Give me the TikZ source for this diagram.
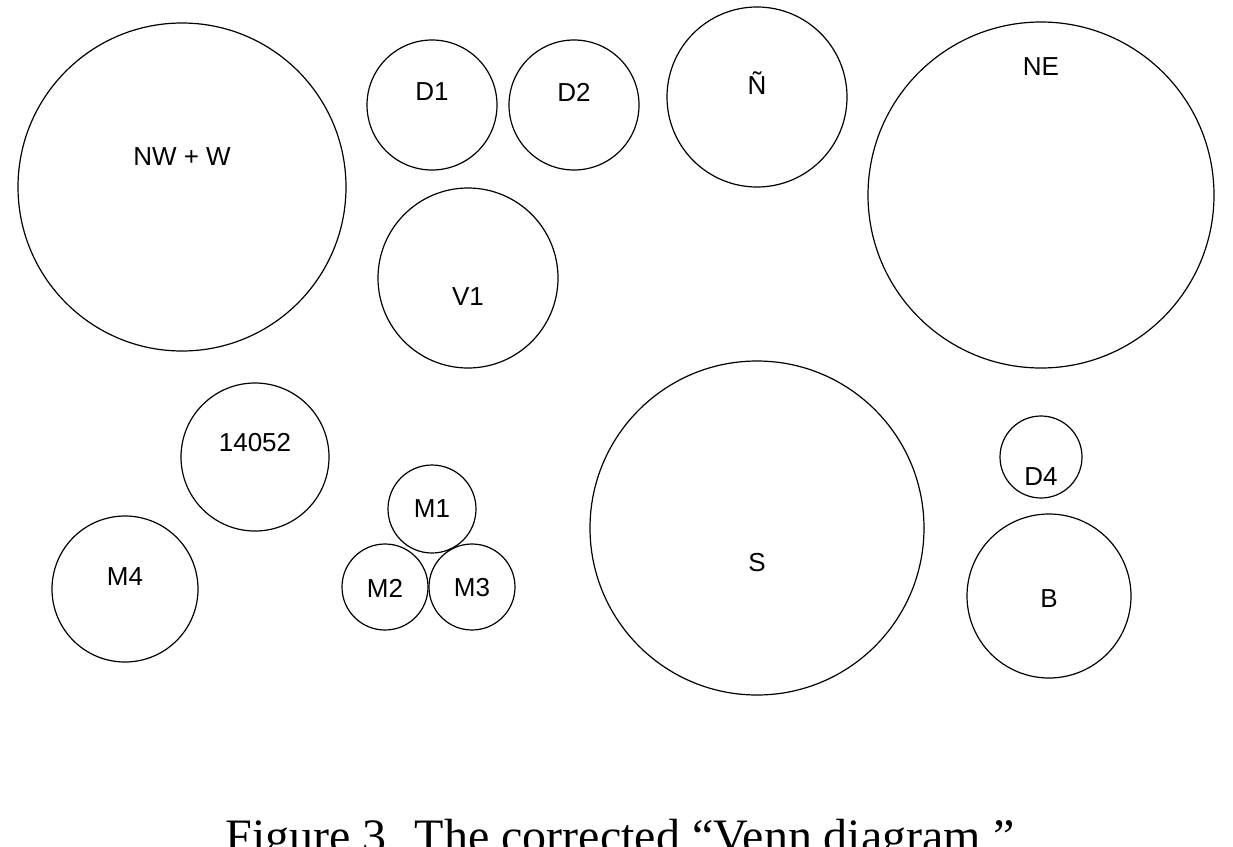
\documentclass[tikz,border=0pt]{standalone}
\usepackage{fontspec}
\setmainfont{Liberation Serif}
\newfontfamily\lab{Liberation Sans}
\begin{document}
\begin{tikzpicture}[x=1pt,y=-1pt,
  lbl/.style={font=\lab\fontsize{26}{30}\selectfont}]
\clip (0,0) rectangle (1233,846);
\fill[white] (0,0) rectangle (1233,846);
\foreach \n/\x/\y/\r in {nw/182/187/164, da/432/105/65, db/574/105/65, en/757/97/90, ne/1041/195/173, va/468/278/90, nf/255/457/74, ma/432/509/44, mb/385/587/43, mc/472/587/43, md/125/589/73, s/757/528/167, dd/1041/457/41, b/1049/596/82}
  \draw[line width=1.2pt] (\x,\y) circle (\r);
\node[lbl] (Lnw) at (182,157) {NW + W};
\node[lbl] (Lda) at (432,92) {D1};
\node[lbl] (Ldb) at (574,92) {D2};
\node[lbl] (Len) at (757,83) {Ñ};
\node[lbl] (Lne) at (1041,67) {NE};
\node[lbl] (Lva) at (468,297) {V1};
\node[lbl] (Lnf) at (255,443) {14052};
\node[lbl] (Lma) at (432,509) {M1};
\node[lbl] (Lmb) at (385,588) {M2};
\node[lbl] (Lmc) at (472,588) {M3};
\node[lbl] (Lmd) at (125,577) {M4};
\node[lbl] (Ls) at (757,563) {S};
\node[lbl] (Ldd) at (1041,477) {D4};
\node[lbl] (Lb) at (1049,599) {B};
\node[anchor=base,font=\fontsize{48}{54}\selectfont] (cap) at (620,852) {Figure 3. The corrected “Venn diagram.”};
\end{tikzpicture}
\end{document}
